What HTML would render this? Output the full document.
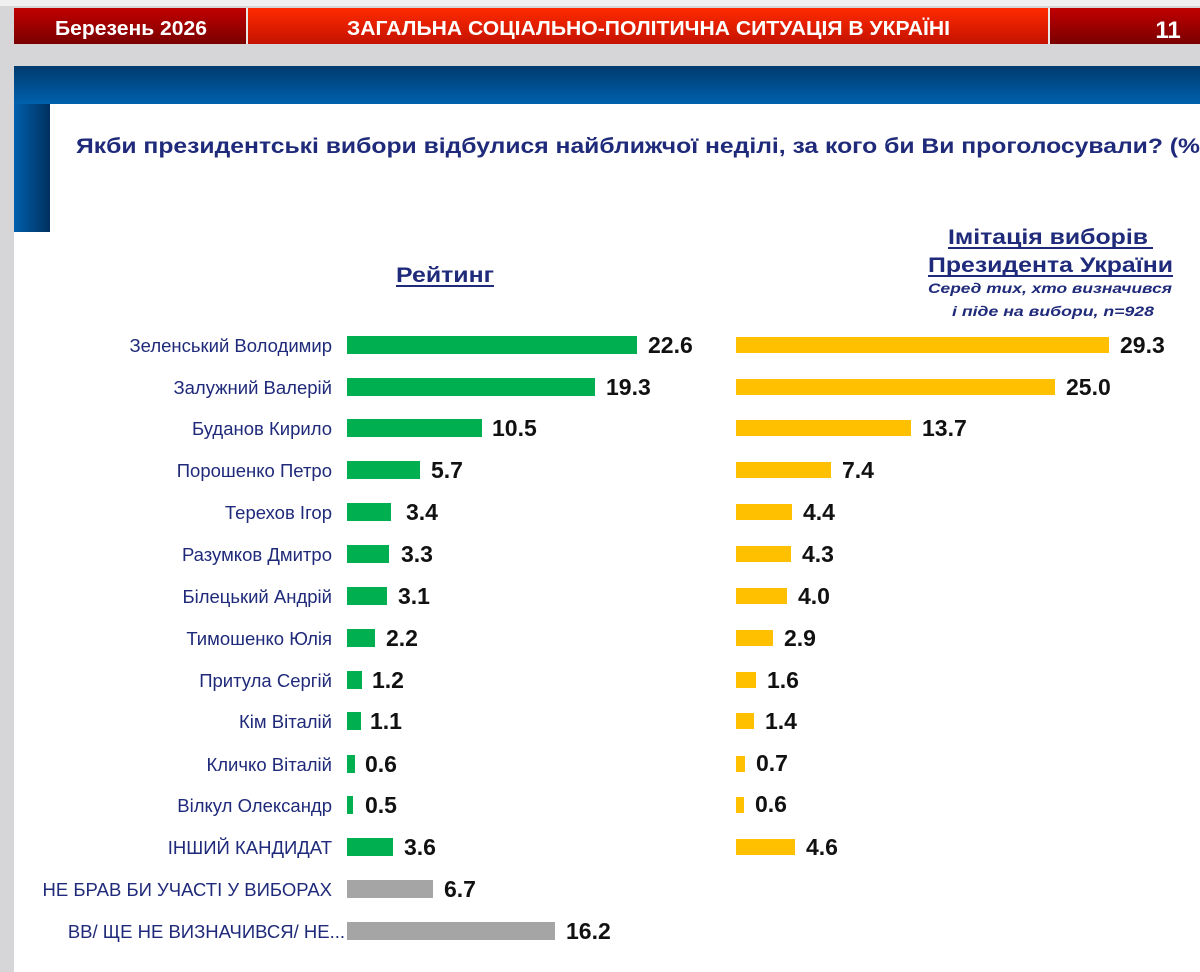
<!DOCTYPE html>
<html><head><meta charset="utf-8"><style>
html,body{margin:0;padding:0;width:1200px;height:972px;overflow:hidden;background:#d6d6d8}
svg{display:block}
</style></head><body>
<svg width="1200" height="972" viewBox="0 0 1200 972" xmlns="http://www.w3.org/2000/svg" font-family="Liberation Sans, DejaVu Sans, sans-serif">
<defs>
<linearGradient id="dr" x1="0" y1="0" x2="0" y2="1"><stop offset="0" stop-color="#c00000"/><stop offset="1" stop-color="#7a0000"/></linearGradient>
<linearGradient id="rd" x1="0" y1="0" x2="0" y2="1"><stop offset="0" stop-color="#ff2a00"/><stop offset="1" stop-color="#c41200"/></linearGradient>
<linearGradient id="bl" x1="0" y1="0" x2="0" y2="1"><stop offset="0" stop-color="#003a6e"/><stop offset="1" stop-color="#0060ad"/></linearGradient>
<linearGradient id="bv" x1="0" y1="0" x2="1" y2="0"><stop offset="0" stop-color="#0060ad"/><stop offset="1" stop-color="#00305e"/></linearGradient>
</defs>
<rect x="0" y="0" width="1200" height="6" fill="#f0f0f0"/>
<rect x="14" y="8" width="1186" height="36" fill="#e8e8e8"/>
<rect x="14" y="8" width="232" height="36" fill="url(#dr)"/>
<rect x="248" y="8" width="800" height="36" fill="url(#rd)"/>
<rect x="1050" y="8" width="150" height="36" fill="url(#dr)"/>
<text x="55" y="35" fill="#fff" font-size="20" font-weight="bold" textLength="152" lengthAdjust="spacingAndGlyphs">Березень 2026</text>
<text x="347" y="35" fill="#fff" font-size="20" font-weight="bold" textLength="603" lengthAdjust="spacingAndGlyphs">ЗАГАЛЬНА СОЦІАЛЬНО-ПОЛІТИЧНА СИТУАЦІЯ В УКРАЇНІ</text>
<text x="1168" y="38" fill="#fff" font-size="24" font-weight="bold" text-anchor="middle">11</text>
<rect x="14" y="66" width="1186" height="906" fill="#fff"/>
<rect x="14" y="66" width="1186" height="38" fill="url(#bl)"/>
<rect x="14" y="104" width="36" height="128" fill="url(#bv)"/>
<text x="76" y="153" fill="#1f2a7a" font-size="21" font-weight="bold" textLength="1124" lengthAdjust="spacingAndGlyphs">Якби президентські вибори відбулися найближчої неділі, за кого би Ви проголосували? (%</text>
<text x="396" y="282" fill="#1f2a7a" font-size="21" font-weight="bold" textLength="98" lengthAdjust="spacingAndGlyphs">Рейтинг</text>
<rect x="396" y="285" width="98" height="2" fill="#1f2a7a"/>
<text x="948" y="244" fill="#1f2a7a" font-size="21" font-weight="bold" textLength="200" lengthAdjust="spacingAndGlyphs">Імітація виборів</text>
<rect x="948" y="247" width="205" height="2" fill="#1f2a7a"/>
<text x="928" y="272" fill="#1f2a7a" font-size="21" font-weight="bold" textLength="245" lengthAdjust="spacingAndGlyphs">Президента України</text>
<rect x="928" y="275" width="245" height="2" fill="#1f2a7a"/>
<text x="928" y="293" fill="#1f2a7a" font-size="14" font-weight="bold" font-style="italic" textLength="244" lengthAdjust="spacingAndGlyphs">Серед тих, хто визначився</text>
<text x="952" y="316" fill="#1f2a7a" font-size="14" font-weight="bold" font-style="italic" textLength="202" lengthAdjust="spacingAndGlyphs">і піде на вибори, n=928</text>
<g font-size="18.5" fill="#1f2a7a" text-anchor="end">
<text x="332" y="352">Зеленський Володимир</text>
<text x="332" y="394">Залужний Валерій</text>
<text x="332" y="435">Буданов Кирило</text>
<text x="332" y="477">Порошенко Петро</text>
<text x="332" y="519">Терехов Ігор</text>
<text x="332" y="561">Разумков Дмитро</text>
<text x="332" y="603">Білецький Андрій</text>
<text x="332" y="645">Тимошенко Юлія</text>
<text x="332" y="687">Притула Сергій</text>
<text x="332" y="728">Кім Віталій</text>
<text x="332" y="771">Кличко Віталій</text>
<text x="332" y="812">Вілкул Олександр</text>
<text x="332" y="854">ІНШИЙ КАНДИДАТ</text>
<text x="332" y="896">НЕ БРАВ БИ УЧАСТІ У ВИБОРАХ</text>
<text x="345" y="938">ВВ/ ЩЕ НЕ ВИЗНАЧИВСЯ/ НЕ...</text>
</g>
<g fill="#00b050">
<rect x="347" y="336" width="290" height="18"/>
<rect x="347" y="378" width="248" height="18"/>
<rect x="347" y="419" width="135" height="18"/>
<rect x="347" y="461" width="73" height="18"/>
<rect x="347" y="503" width="44" height="18"/>
<rect x="347" y="545" width="42" height="18"/>
<rect x="347" y="587" width="40" height="18"/>
<rect x="347" y="629" width="28" height="18"/>
<rect x="347" y="671" width="15" height="18"/>
<rect x="347" y="712" width="14" height="18"/>
<rect x="347" y="755" width="8" height="18"/>
<rect x="347" y="796" width="6" height="18"/>
<rect x="347" y="838" width="46" height="18"/>
</g>
<g fill="#a5a5a5">
<rect x="347" y="880" width="86" height="18"/>
<rect x="347" y="922" width="208" height="18"/>
</g>
<g font-size="23" font-weight="bold" fill="#111">
<text x="648" y="353">22.6</text>
<text x="606" y="395">19.3</text>
<text x="492" y="436">10.5</text>
<text x="431" y="478">5.7</text>
<text x="406" y="520">3.4</text>
<text x="401" y="562">3.3</text>
<text x="398" y="604">3.1</text>
<text x="386" y="646">2.2</text>
<text x="372" y="688">1.2</text>
<text x="370" y="729">1.1</text>
<text x="365" y="772">0.6</text>
<text x="365" y="813">0.5</text>
<text x="404" y="855">3.6</text>
<text x="444" y="897">6.7</text>
<text x="566" y="939">16.2</text>
</g>
<g fill="#ffc000">
<rect x="736" y="337" width="373" height="16"/>
<rect x="736" y="379" width="319" height="16"/>
<rect x="736" y="420" width="175" height="16"/>
<rect x="736" y="462" width="95" height="16"/>
<rect x="736" y="504" width="56" height="16"/>
<rect x="736" y="546" width="55" height="16"/>
<rect x="736" y="588" width="51" height="16"/>
<rect x="736" y="630" width="37" height="16"/>
<rect x="736" y="672" width="20" height="16"/>
<rect x="736" y="713" width="18" height="16"/>
<rect x="736" y="756" width="9" height="16"/>
<rect x="736" y="797" width="8" height="16"/>
<rect x="736" y="839" width="59" height="16"/>
</g>
<g font-size="23" font-weight="bold" fill="#111">
<text x="1120" y="353">29.3</text>
<text x="1066" y="395">25.0</text>
<text x="922" y="436">13.7</text>
<text x="842" y="478">7.4</text>
<text x="803" y="520">4.4</text>
<text x="802" y="562">4.3</text>
<text x="798" y="604">4.0</text>
<text x="784" y="646">2.9</text>
<text x="767" y="688">1.6</text>
<text x="765" y="729">1.4</text>
<text x="756" y="771">0.7</text>
<text x="755" y="812">0.6</text>
<text x="806" y="855">4.6</text>
</g>
</svg>
</body></html>
